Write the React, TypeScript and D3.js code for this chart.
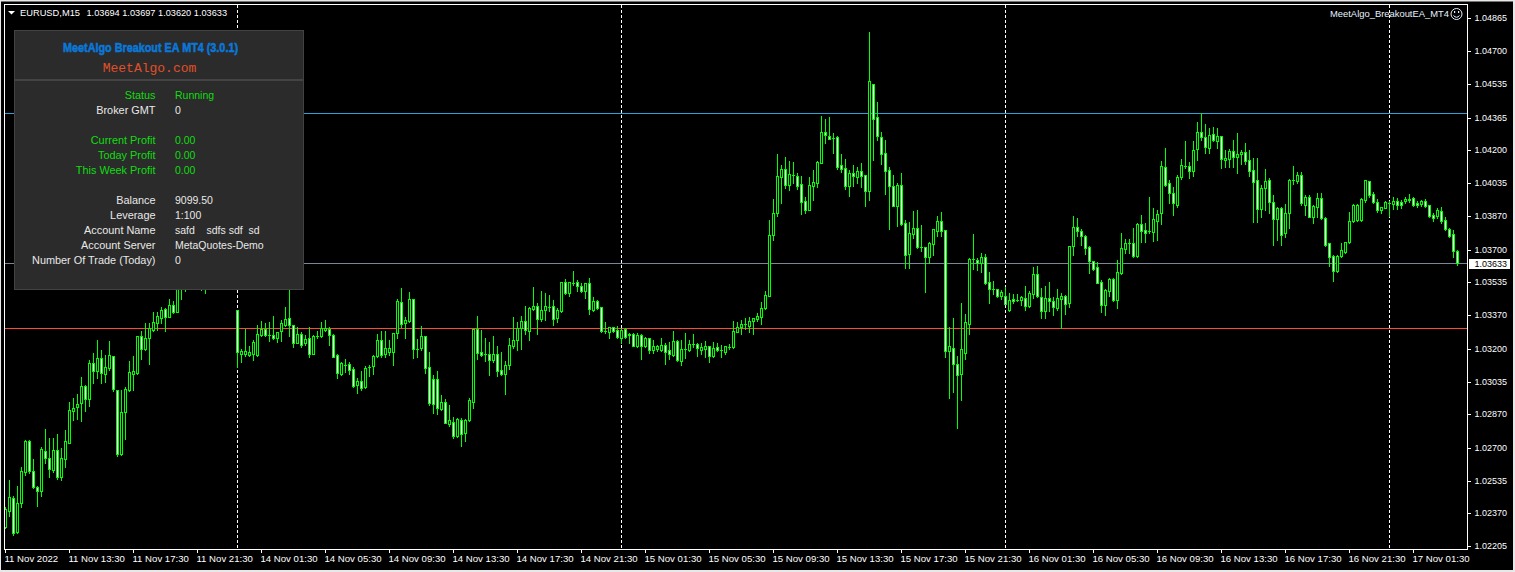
import React from "react";
import * as d3 from "d3";

// Prices are stored as points above 1.00000 : [open, high, low, close]
type Bar = [number, number, number, number];

const nov11: Bar[] = [
[2300,2401,2295,2391],[2384,2539,2358,2452],[2447,2458,2262,2274],[2279,2509,2274,2421],[2421,2603,2405,2583],[2581,2741,2564,2734],[2737,2741,2576,2584],[2583,2643,2497,2502],
[2502,2509,2408,2482],[2482,2704,2458,2694],[2687,2796,2626,2648],[2648,2749,2556,2593],[2589,2749,2581,2689],[2692,2771,2544,2552],[2552,2699,2539,2648],[2643,2791,2606,2734],
[2727,2932,2724,2890],[2888,2951,2841,2900],[2909,2972,2846,2920],[2925,3056,2838,3011],[3011,3016,2888,2946],[2946,3144,2912,3127],[3127,3177,3026,3090],[3090,3245,3051,3152],
[3152,3194,3026,3077],[3075,3169,3035,3107],[3102,3240,3093,3167],[3162,3162,2989,2996],[2991,2991,2660,2672],[2672,2993,2665,2880],[2880,3006,2747,2996],[2994,3139,2989,3085],
[3075,3164,2993,3087],[3077,3265,3072,3263],[3263,3292,3149,3198],[3201,3329,3194,3253],[3256,3329,3124,3303],[3295,3387,3292,3334],[3332,3387,3295,3366],[3357,3413,3329,3394],
[3399,3404,3292,3362],[3362,3450,3359,3419],[3419,3443,3382,3387],[3387,3560,3384,3522],[3522,3600,3451,3560],[3560,3620,3491,3590],[3590,3650,3550,3625],[3625,3670,3580,3610],
[3610,3660,3560,3575],[3575,3640,3496,3540],[3540,3620,3483,3590],[3590,3640,3550,3610],[3610,3680,3570,3650],[3650,3700,3600,3620],[3620,3660,3570,3600],[3600,3650,3560,3630],
[3630,3680,3590,3600],[3600,3640,3540,3560],
];

const nov14: Bar[] = [
[3396,3396,3110,3186],[3176,3198,3131,3188],[3176,3299,3164,3188],[3171,3215,3164,3186],[3176,3245,3144,3233],[3169,3320,3166,3273],[3272,3341,3262,3300],[3302,3329,3265,3268],
[3268,3336,3241,3268],[3268,3366,3248,3252],[3252,3287,3236,3283],[3288,3346,3241,3329],[3322,3413,3315,3352],[3354,3497,3265,3319],[3319,3320,3208,3231],[3231,3309,3228,3275],
[3277,3287,3208,3221],[3228,3270,3220,3248],[3252,3309,3161,3176],[3176,3270,3173,3263],[3262,3292,3253,3262],[3262,3337,3258,3307],[3297,3346,3292,3307],[3299,3312,3220,3268],
[3268,3275,3157,3161],[3168,3173,3053,3077],[3075,3131,3067,3127],[3120,3149,3085,3120],[3122,3134,3073,3095],[3097,3107,3006,3010],[3015,3053,2979,3036],[3036,3089,2993,3003],
[3005,3114,3003,3102],[3110,3119,3063,3110],[3115,3169,3073,3162],[3166,3275,3161,3243],[3243,3290,3157,3171],[3176,3290,3161,3203],[3186,3245,3169,3206],[3186,3282,3119,3278],
[3278,3450,3253,3440],[3435,3507,3312,3327],[3330,3362,3253,3347],[3342,3487,3337,3450],[3450,3450,3154,3198],[3201,3248,3161,3201],[3204,3315,3194,3263],[3263,3265,3080,3105],
[3107,3184,2917,2929],[3047,3068,2875,2924],[3047,3087,2872,2902],[2899,2968,2892,2931],[2931,2946,2825,2828],[2821,2919,2813,2840],[2833,2858,2749,2758],[2758,2852,2754,2847],
[2840,2850,2711,2773],[2778,2845,2734,2842],[2843,2952,2838,2941],[2934,3300,2902,3299],[3299,3366,3149,3181],[3186,3295,3164,3171],[3173,3253,3139,3173],[3173,3236,3068,3141],
[3144,3265,3134,3173],[3173,3215,3063,3090],[3092,3183,3067,3075],[3075,3136,2973,3117],[3117,3253,3099,3218],[3215,3362,3203,3243],[3243,3337,3194,3307],[3304,3366,3199,3339],
[3339,3416,3275,3297],[3292,3413,3245,3404],[3401,3510,3396,3414],[3414,3430,3275,3351],[3349,3492,3339,3396],[3393,3480,3346,3416],[3409,3472,3388,3409],[3414,3446,3320,3351],
[3356,3404,3337,3394],[3388,3539,3384,3535],[3535,3551,3477,3483],[3482,3539,3467,3535],[3532,3593,3520,3532],[3535,3547,3490,3514],[3515,3530,3485,3492],[3493,3534,3455,3530],
[3530,3556,3376,3401],[3396,3463,3389,3440],[3440,3446,3403,3406],[3409,3409,3285,3290],[3288,3336,3278,3288],[3287,3312,3253,3309],[3309,3312,3285,3290],[3295,3315,3253,3260],
];

const nov15: Bar[] = [
[3255,3304,3228,3297],[3299,3304,3253,3258],[3267,3282,3228,3275],[3275,3278,3215,3216],[3215,3278,3211,3270],[3268,3275,3149,3215],[3215,3257,3211,3253],[3253,3253,3181,3194],
[3194,3245,3178,3213],[3199,3220,3189,3213],[3194,3253,3191,3218],[3218,3228,3124,3186],[3193,3236,3147,3174],[3169,3290,3164,3238],[3240,3245,3137,3141],[3136,3245,3119,3198],
[3199,3278,3152,3199],[3194,3245,3191,3225],[3223,3275,3208,3223],[3223,3231,3164,3206],[3194,3231,3173,3208],[3201,3240,3161,3215],[3213,3215,3134,3166],[3166,3236,3161,3204],
[3208,3231,3191,3194],[3193,3220,3161,3193],[3186,3215,3173,3213],[3211,3225,3201,3211],[3211,3341,3206,3288],[3287,3337,3283,3309],[3312,3346,3275,3324],[3324,3354,3302,3324],
[3317,3359,3287,3339],[3341,3357,3275,3354],[3351,3379,3342,3366],[3362,3438,3325,3404],[3408,3492,3401,3470],[3468,3849,3465,3772],[3775,3955,3748,3883],[3886,4180,3869,4069],
[4067,4126,3936,4104],[4104,4165,4009,4027],[4027,4146,4000,4079],[4076,4140,4034,4076],[4069,4088,4005,4022],[4029,4071,3879,3941],[3943,3967,3886,3901],[3901,4064,3899,4024],
[4022,4101,3950,4039],[4037,4146,4017,4140],[4138,4373,4135,4291],[4291,4358,4237,4279],[4274,4368,4256,4259],[4261,4286,4187,4261],[4266,4271,4106,4118],[4125,4182,4093,4108],
[4109,4156,4005,4022],[4022,4101,3970,4084],[4084,4126,4020,4072],[4067,4118,4037,4094],[4094,4135,4017,4072],[4074,4077,3920,3997],[3997,4795,3950,4548],[4533,4533,4151,4360],
[4366,4442,4252,4274],[4266,4293,4131,4183],[4185,4252,3980,4098],[4099,4116,3804,4022],[4019,4076,3920,3921],[3921,4034,3820,4024],[4024,4084,3824,3831],[3832,3849,3607,3674],
[3679,3839,3607,3782],[3780,3894,3758,3807],[3807,3899,3708,3713],[3713,3824,3694,3713],[3711,3711,3488,3664],[3664,3738,3631,3731],[3730,3802,3673,3802],[3795,3869,3768,3842],
[3842,3889,3768,3795],[3797,3797,3160,3191],[3191,3312,2954,3212],[3202,3355,2984,3125],[3122,3164,2803,3070],[3075,3431,2942,3197],[3181,3375,3150,3333],[3327,3656,3275,3651],
[3653,3779,3601,3653],[3649,3656,3597,3631],[3631,3681,3589,3661],[3664,3678,3527,3533],[3535,3587,3433,3500],[3500,3542,3476,3500],[3500,3503,3463,3466],[3466,3496,3451,3485],
];

const nov16: Bar[] = [
[3464,3510,3424,3428],[3396,3481,3391,3444],[3451,3476,3433,3441],[3448,3476,3441,3448],[3448,3466,3421,3459],[3458,3517,3396,3417],[3417,3493,3412,3480],[3478,3612,3458,3575],
[3575,3617,3459,3464],[3459,3505,3355,3389],[3392,3517,3355,3454],[3454,3535,3392,3443],[3443,3459,3370,3411],[3407,3500,3396,3454],[3451,3480,3303,3464],[3464,3471,3375,3428],
[3433,3718,3412,3716],[3720,3869,3673,3812],[3812,3859,3769,3795],[3794,3802,3723,3769],[3767,3772,3678,3710],[3711,3718,3580,3644],[3641,3641,3597,3602],[3611,3638,3530,3533],
[3535,3547,3386,3421],[3421,3500,3370,3496],[3491,3555,3468,3550],[3550,3555,3443,3446],[3446,3648,3406,3585],[3584,3785,3577,3706],[3705,3752,3685,3732],[3732,3752,3681,3732],
[3732,3811,3664,3668],[3668,3832,3664,3829],[3827,3874,3740,3795],[3797,3836,3740,3782],[3792,3965,3782,3792],[3790,3908,3745,3853],[3846,3900,3748,3879],[3883,4147,3829,4120],
[4115,4210,4021,4027],[4034,4051,3933,3987],[3987,4014,3874,3933],[3923,4076,3916,4064],[4064,4158,4054,4125],[4120,4247,4110,4120],[4120,4143,4059,4098],[4098,4249,4071,4202],
[4209,4341,4152,4291],[4291,4387,4252,4266],[4266,4333,4189,4219],[4214,4311,4185,4276],[4281,4316,4249,4254],[4249,4311,4210,4273],[4273,4273,4110,4155],[4153,4202,4115,4160],
[4157,4205,4118,4195],[4195,4252,4118,4168],[4168,4286,4088,4180],[4180,4202,4131,4192],[4192,4236,4131,4145],[4150,4202,4071,4098],[4100,4160,3841,4042],[4049,4160,3841,3906],
[3906,4026,3863,4012],[4012,4105,3900,4046],[4049,4059,3883,3942],[3942,3975,3723,3856],[3856,3913,3748,3910],[3910,3913,3723,3775],[3782,3930,3762,3883],[3886,4054,3807,4051],
[4051,4121,4031,4051],[4047,4091,4034,4074],[4074,4093,3925,3933],[3925,3975,3874,3967],[3967,3975,3863,3866],[3866,3925,3836,3920],[3913,3987,3863,3960],[3960,3984,3853,3858],
[3858,3863,3718,3722],[3732,3735,3619,3661],[3668,3673,3543,3594],[3590,3673,3587,3668],[3668,3735,3661,3698],[3690,3740,3681,3737],[3740,3888,3732,3842],[3846,3930,3841,3923],
[3849,3930,3846,3923],[3849,3958,3846,3953],[3950,4049,3942,4049],[4044,4046,3967,3977],[3979,3990,3933,3940],[3942,3957,3891,3900],[3900,3916,3886,3913],[3911,3945,3908,3942],
];

const nov17: Bar[] = [
[3937,3947,3869,3937],[3930,3963,3903,3947],[3947,3962,3903,3926],[3940,3950,3911,3925],[3947,3967,3933,3953],[3950,3980,3942,3957],[3958,3967,3920,3925],[3935,3947,3916,3926],
[3928,3950,3920,3943],[3947,3953,3916,3921],[3923,3923,3866,3871],[3873,3883,3846,3858],[3868,3908,3858,3898],[3893,3913,3836,3846],[3848,3863,3799,3802],[3802,3807,3765,3770],
[3777,3799,3664,3695],[3694,3697,3620,3633],
];

const priceTicks = ["1.04865","1.04700","1.04535","1.04365","1.04200","1.04035","1.03870","1.03700","1.03535","1.03370","1.03200","1.03035","1.02870","1.02700","1.02535","1.02370","1.02205"];
const timeTicks = ["11 Nov 2022","11 Nov 13:30","11 Nov 17:30","11 Nov 21:30","14 Nov 01:30","14 Nov 05:30","14 Nov 09:30","14 Nov 13:30","14 Nov 17:30","14 Nov 21:30","15 Nov 01:30","15 Nov 05:30","15 Nov 09:30","15 Nov 13:30","15 Nov 17:30","15 Nov 21:30","16 Nov 01:30","16 Nov 05:30","16 Nov 09:30","16 Nov 13:30","16 Nov 17:30","16 Nov 21:30","17 Nov 01:30"];
const barsPerTimeTick = 16;
const panelLabels = ["Status","Broker GMT","","Current Profit","Today Profit","This Week Profit","","Balance","Leverage","Account Name","Account Server","Number Of Trade (Today)"];
const panelValues = ["Running","0","","0.00","0.00","0.00","","9099.50","1:100","safd    sdfs sdf  sd","MetaQuotes-Demo","0"];
const panelGreenRows = [0,3,4,5];
const levelBlue = 1.04389;
const levelRed = 1.03305;
const lastBid = 1.03633;

const sessions = [nov11, nov14, nov15, nov16, nov17];
const bars = sessions.flat();
const dayStarts = [nov11.length, nov11.length + nov14.length, nov11.length + nov14.length + nov15.length, nov11.length + nov14.length + nov15.length + nov16.length];

const W = 1515, H = 572;
const x = d3.scaleLinear().domain([0, 1]).range([5, 9]);
const y = d3.scaleLinear().domain([1.02205, 1.04865]).range([546.2, 18.45]);
const py = (pts: number) => Math.round(y(1 + pts / 1e5));
const FONT = "'Liberation Sans', Arial, sans-serif";
const GREEN = "#00ff00";
const AXIS_SIZE = 9.6;

export default function App() {
  const hline = (price: number, color: string) => {
    const yy = Math.round(y(price));
    return <rect x={5} y={yy} width={1462} height={1} fill={color} />;
  };
  return (
    <svg width={W} height={H} viewBox={`0 0 ${W} ${H}`} style={{ position: "absolute", left: 0, top: 0, display: "block", background: "#000" }}>
      <rect x={0} y={0} width={W} height={1.5} fill="#e8e8e8" />
      <rect x={0} y={570} width={W} height={2} fill="#e8e8e8" />
      <rect x={1513} y={0} width={2} height={H} fill="#e8e8e8" />
      <rect x={0} y={0} width={1} height={H} fill="#e8e8e8" />

      {/* period separators */}
      {dayStarts.map((d) => (
        <line key={d} x1={x(d) + 0.5} x2={x(d) + 0.5} y1={5} y2={549} stroke="#fff" strokeWidth={1} strokeDasharray="3 2" shapeRendering="crispEdges" />
      ))}

      {hline(levelBlue, "#2aa3dc")}
      {hline(lastBid, "#778899")}
      {hline(levelRed, "#ff4a30")}

      {/* candles */}
      <g shapeRendering="crispEdges">
        {bars.map(([o, h, l, c], i) => {
          const cx = Math.round(x(i));
          const top = py(Math.max(o, c));
          const bottom = py(Math.min(o, c));
          const bh = bottom - top;
          return (
            <g key={i}>
              <rect x={cx} y={py(h)} width={1} height={py(l) - py(h) + 1} fill={GREEN} />
              <rect x={cx - 1} y={top} width={3} height={bh + 1} fill={GREEN} />
              {bh >= 2 && <rect x={cx} y={top + 1} width={1} height={bh - 1} fill={c >= o ? "#000" : "#fff"} />}
            </g>
          );
        })}
      </g>

      {/* frame */}
      <rect x={4} y={4} width={1464} height={1} fill="#fff" />
      <rect x={4} y={4} width={1} height={546} fill="#fff" />
      <rect x={4} y={549} width={1464} height={1} fill="#fff" />
      <rect x={1467} y={4} width={1} height={546} fill="#fff" />

      {/* price axis */}
      {priceTicks.map((t) => {
        const yy = Math.round(y(+t));
        return (
          <g key={t}>
            <rect x={1468} y={yy} width={3} height={1} fill="#fff" />
            <text x={1474.5} y={yy + 2.8} fill="#fff" fontFamily={FONT} fontSize={AXIS_SIZE} textLength={32.5} lengthAdjust="spacingAndGlyphs">{t}</text>
          </g>
        );
      })}
      <rect x={1469} y={259} width={41} height={10} fill="#fff" />
      <text x={1474.5} y={267} fill="#000" fontFamily={FONT} fontSize={AXIS_SIZE} textLength={32.5} lengthAdjust="spacingAndGlyphs">{lastBid.toFixed(5)}</text>

      {/* time axis */}
      {timeTicks.map((t, k) => {
        const tx = Math.round(x(k * barsPerTimeTick));
        return (
          <g key={t}>
            <rect x={tx} y={550} width={1} height={3} fill="#fff" />
            <text x={tx - 0.5} y={562} fill="#fff" fontFamily={FONT} fontSize={AXIS_SIZE}>{t}</text>
          </g>
        );
      })}

      {/* chart header */}
      <path d="M8 11 H15 L11.5 14.5 Z" fill="#fff" />
      <text x={20} y={15.5} fill="#fff" fontFamily={FONT} fontSize={AXIS_SIZE} textLength={60} lengthAdjust="spacingAndGlyphs">EURUSD,M15</text>
      <text x={86.5} y={15.5} fill="#fff" fontFamily={FONT} fontSize={AXIS_SIZE} textLength={140.5} lengthAdjust="spacingAndGlyphs">1.03694 1.03697 1.03620 1.03633</text>
      <text x={1330} y={17} fill="#e6f2ff" fontFamily={FONT} fontSize={AXIS_SIZE} textLength={119} lengthAdjust="spacingAndGlyphs">MeetAlgo_BreakoutEA_MT4</text>
      <g fill="none" stroke="#dfeeff" strokeWidth={1}>
        <circle cx={1456.5} cy={14} r={5.5} />
        <path d="M1453.5 15.5 Q1456.5 19 1459.5 15.5" />
      </g>
      <rect x={1454} y={11} width={1.2} height={2} fill="#dfeeff" />
      <rect x={1458} y={11} width={1.2} height={2} fill="#dfeeff" />

      {/* EA panel */}
      <rect x={14.5} y={30.5} width={289} height={259} fill="#2b2b2b" stroke="#424242" strokeWidth={1} />
      <rect x={15} y={79} width={288} height={2} fill="#444444" />
      <text x={150.5} y={52} textAnchor="middle" fill="#0a78d8" stroke="#0a78d8" strokeWidth={0.6} fontFamily="'Liberation Sans Narrow','Liberation Sans',sans-serif" fontWeight="bold" fontSize={13.5} textLength={175} lengthAdjust="spacingAndGlyphs">MeetAlgo Breakout EA MT4 (3.0.1)</text>
      <text x={149.5} y={72} textAnchor="middle" fill="#e0502a" fontFamily="'Liberation Mono',monospace" fontSize={13}>MeetAlgo.com</text>
      {panelLabels.map((label, k) => {
        const fill = panelGreenRows.includes(k) ? "#10dc10" : "#e8e8e8";
        const by = 99 + 15 * k;
        return label ? (
          <g key={k} fontFamily={FONT} fill={fill}>
            <text x={155.5} y={by} textAnchor="end" fontSize={10.9}>{label}</text>
            <text x={175} y={by} fontSize={10.5} style={{ whiteSpace: "pre" }}>{panelValues[k]}</text>
          </g>
        ) : null;
      })}
    </svg>
  );
}
